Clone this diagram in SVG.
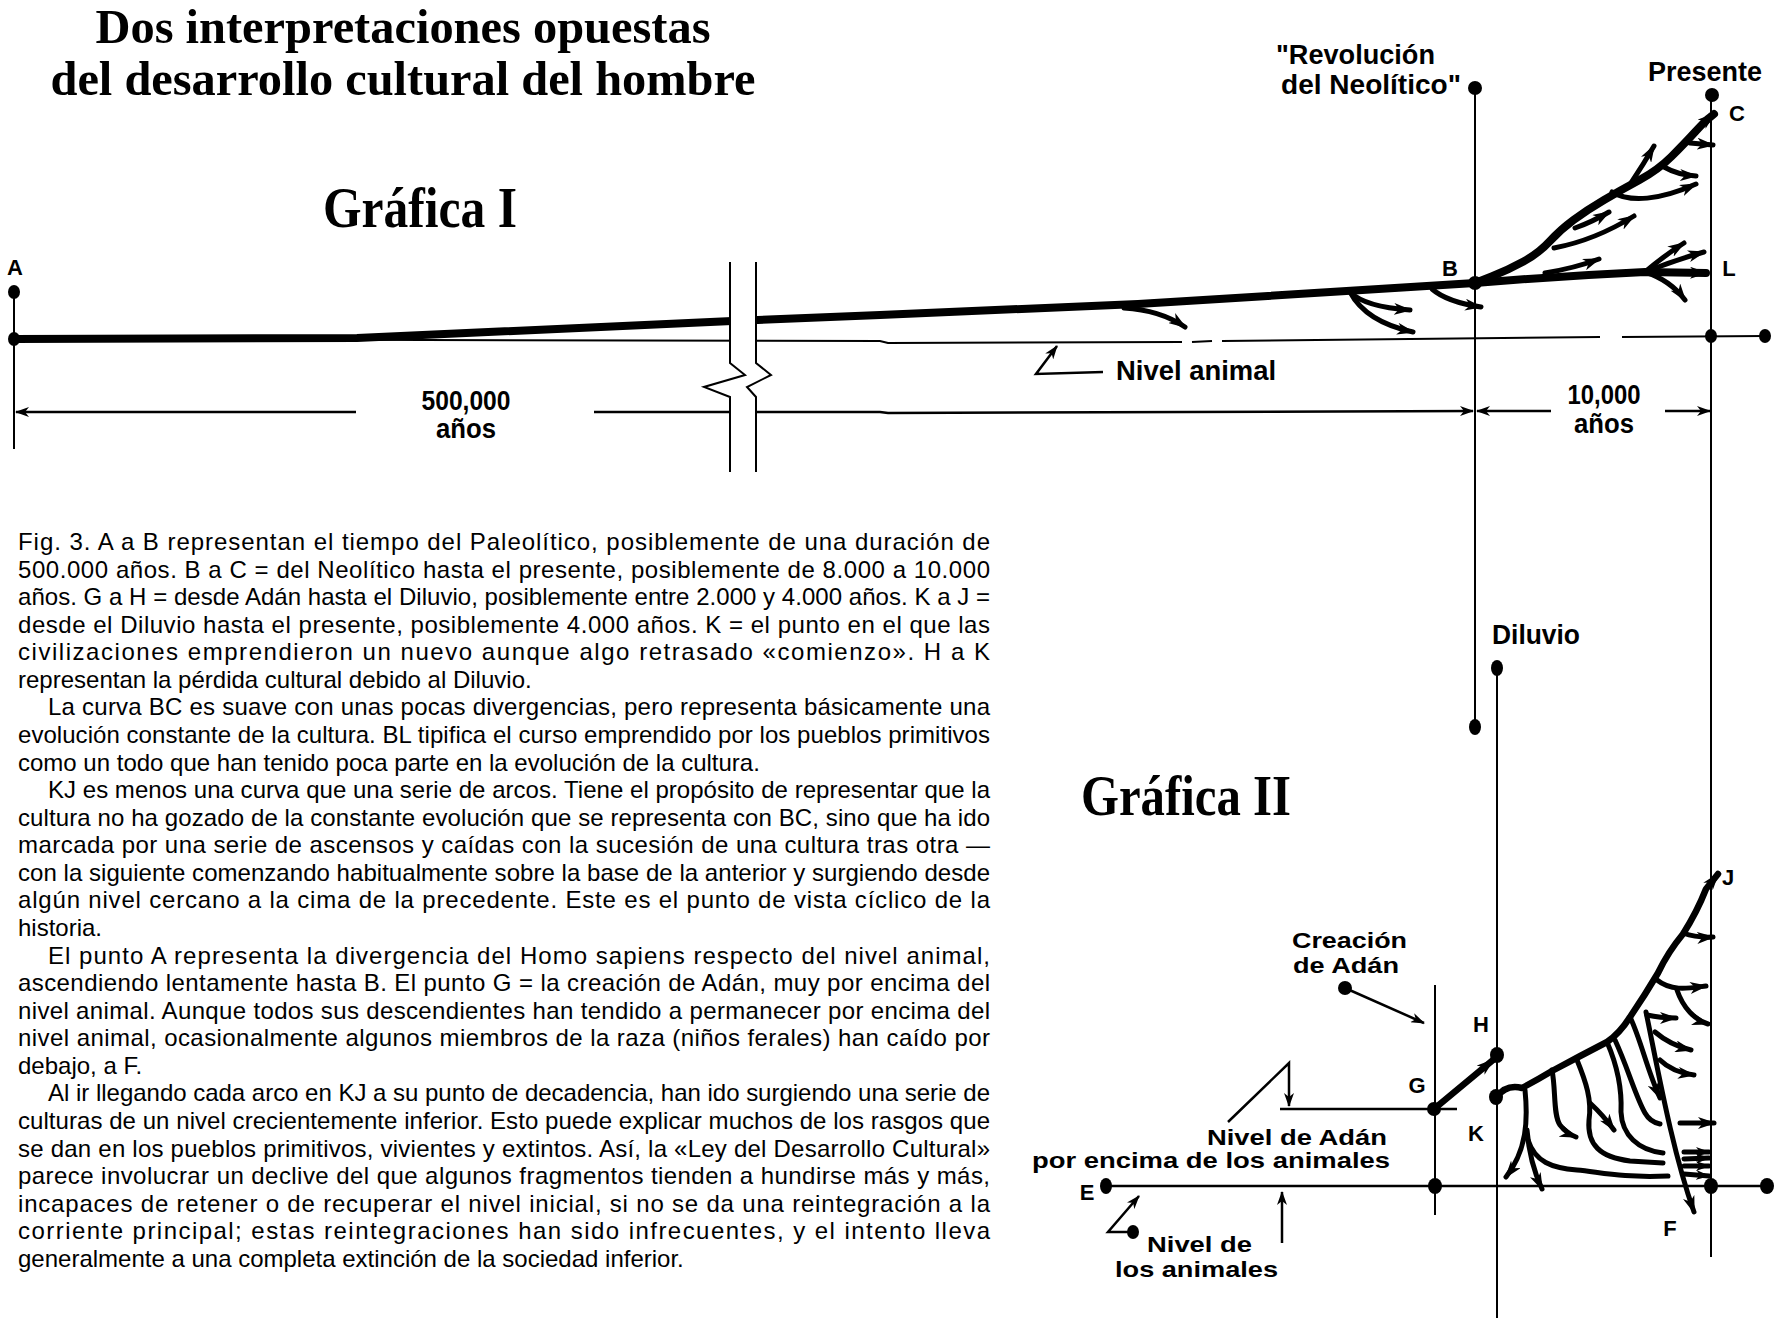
<svg xmlns="http://www.w3.org/2000/svg" width="1784" height="1328" viewBox="0 0 1784 1328">
<defs>
<style>
.ttl{font-family:"Liberation Serif","Times New Roman",serif;font-weight:bold;fill:#000}
.lbl{font-family:"Liberation Sans",Arial,sans-serif;font-weight:bold;font-size:27px;fill:#000}
.lbs{font-family:"Liberation Sans",Arial,sans-serif;font-weight:bold;font-size:22px;fill:#000}
.let{font-family:"Liberation Sans",Arial,sans-serif;font-weight:bold;font-size:22px;fill:#000;text-anchor:middle}
.body{font-family:"Liberation Sans",Arial,sans-serif;font-size:24px;fill:#000}
.thin{fill:none;stroke:#000;stroke-width:2}
.dim{fill:none;stroke:#000;stroke-width:2.5}
.thick{fill:none;stroke:#000;stroke-width:8;stroke-linecap:round;stroke-linejoin:round}
.br{fill:none;stroke:#000;stroke-width:5;stroke-linecap:round;stroke-linejoin:round}
.sp{fill:none;stroke:#000;stroke-width:6.5;stroke-linecap:round;stroke-linejoin:round}
.dot{fill:#000}
</style>
<marker id="ah" viewBox="0 0 18 12" refX="16" refY="6" markerWidth="18" markerHeight="12" markerUnits="userSpaceOnUse" orient="auto"><path d="M0,0 L18,6 L0,12 L5,6 z" fill="#000"/></marker>
<marker id="as" viewBox="0 0 14 10" refX="13" refY="5" markerWidth="14" markerHeight="10" markerUnits="userSpaceOnUse" orient="auto-start-reverse"><path d="M0,0 L14,5 L0,10 L4,5 z" fill="#000"/></marker>
</defs>
<rect width="1784" height="1328" fill="#fff"/>

<g id="title">
<text class="ttl" x="403" y="43" font-size="48" text-anchor="middle" textLength="615" lengthAdjust="spacingAndGlyphs">Dos interpretaciones opuestas</text>
<text class="ttl" x="403" y="95" font-size="48" text-anchor="middle" textLength="705" lengthAdjust="spacingAndGlyphs">del desarrollo cultural del hombre</text>
</g>

<g id="grafica-1-title"><text class="ttl" x="420" y="227" font-size="56" text-anchor="middle" textLength="194" lengthAdjust="spacingAndGlyphs">Gráfica I</text></g>
<g id="grafica-2-title"><text class="ttl" x="1186" y="815" font-size="56" text-anchor="middle" textLength="210" lengthAdjust="spacingAndGlyphs">Gráfica II</text></g>

<g id="connectors">
<path class="thin" d="M14,292 L14,449"/>
<path class="thin" d="M1475,88 L1475,727"/>
<path class="thin" d="M1711,95 L1711,1257"/>
<path class="thin" d="M1497,668 L1497,1318"/>
<path class="thin" d="M1435,985 L1435,1215"/>

<path class="thin" d="M14,339 L880,341 L888,343 L1182,342"/>
<path class="thin" d="M1192,342 L1212,341"/>
<path class="thin" d="M1222,341 L1600,337"/>
<path class="thin" d="M1622,337 L1765,336"/>

<path class="thick" d="M14,339 L357,338 L732,321 L880,315 L1138,304 L1475,283"/>

<path class="dim" d="M16,412 L356,412" marker-start="url(#as)"/>
<path class="dim" d="M594,412 L880,412 L888,413 L1473,411" marker-end="url(#as)"/>
<path class="dim" d="M1551,411 L1477,411" marker-end="url(#as)"/>
<path class="dim" d="M1665,411 L1710,411" marker-end="url(#as)"/>

<polygon points="730,262 730,363 745,375 704,387 730,397 730,472 756,472 756,397 747,387 773,375 756,363 756,262" fill="#fff"/>
<polyline class="thin" points="730,262 730,363 745,375 704,387 730,397 730,472"/>
<polyline class="thin" points="756,262 756,363 771,375 747,387 756,397 756,472"/>

<path class="thick" stroke-width="7.5" d="M1475,283 L1491.5,276.5 Q1508,270 1523.5,261.5 Q1539,253 1549.5,241.5 Q1560,230 1573.5,220 Q1587,210 1604,200 Q1621,190 1639.5,180 Q1658,170 1671.5,156.5 Q1685,143 1695.5,131.5 Q1706,120 1711,116.5 L1714,114" marker-end="url(#ah)"/>
<path class="thick" stroke-width="6.5" d="M1475,283 Q1560,276 1645,272 L1706,273" marker-end="url(#ah)"/>
<path class="br" d="M1631,183 Q1643,165 1654,146" marker-end="url(#ah)"/>
<path class="br" d="M1664,167 Q1678,175 1696,176" marker-end="url(#ah)"/>
<path class="br" d="M1690,143 L1713,145" marker-end="url(#ah)"/>
<path class="br" d="M1612,192 C1630,203 1660,200 1696,184" marker-end="url(#ah)"/>
<path class="br" d="M1575,228 Q1592,222 1609,212" marker-end="url(#ah)"/>
<path class="br" d="M1554,248 C1575,244 1605,234 1634,216" marker-end="url(#ah)"/>
<path class="br" d="M1545,273 Q1575,268 1599,259" marker-end="url(#ah)"/>
<path class="br" d="M1645,272 Q1665,255 1684,243" marker-end="url(#ah)"/>
<path class="br" d="M1645,272 Q1675,260 1704,252" marker-end="url(#ah)"/>
<path class="br" d="M1645,272 Q1670,280 1685,300" marker-end="url(#ah)"/>
<path class="br" d="M1350,292 Q1365,307 1410,310" marker-end="url(#ah)"/>
<path class="br" d="M1350,292 Q1366,322 1413,332" marker-end="url(#ah)"/>
<path class="br" d="M1432,289 Q1447,302 1481,307" marker-end="url(#ah)"/>
<path class="br" d="M1124,308 Q1160,310 1185,327" marker-end="url(#ah)"/>

<path class="dim" stroke-width="3.5" d="M1103,372 L1036,374 L1057,346" marker-end="url(#as)"/>

<path class="dim" d="M1106,1186 L1767,1186"/>
<path class="dim" d="M1280,1109 L1457,1109"/>
<path class="dim" d="M1228,1122 L1289,1063 L1289,1106" marker-end="url(#as)"/>
<path class="dim" d="M1133,1232 L1108,1232 L1139,1196" marker-end="url(#as)"/>
<path class="dim" d="M1282,1243 L1282,1192" marker-end="url(#as)"/>
<path class="dim" stroke-width="3" d="M1345,988 L1424,1023" marker-end="url(#as)"/>

<path class="sp" d="M1434,1109 L1493,1060" marker-end="url(#ah)"/>

<path class="sp" d="M1497,1097 Q1506,1084 1522,1088 Q1537,1080 1552,1071 Q1580,1056 1607,1042 Q1620,1033 1630,1017 Q1645,995 1658,973 Q1668,952 1683,934 Q1697,912 1706,889 L1718,874" marker-end="url(#ah)"/>
<path class="br" d="M1525,1090 C1528,1120 1527,1150 1506,1177" marker-end="url(#ah)"/>
<path class="br" d="M1527,1130 C1529,1155 1534,1172 1542,1189" marker-end="url(#ah)"/>
<path class="br" d="M1528,1140 C1535,1162 1552,1168 1577,1170 C1600,1172 1620,1178 1668,1176"/>
<path class="br" d="M1552,1070 C1556,1090 1553,1115 1560,1125 Q1566,1133 1576,1137" marker-end="url(#ah)"/>
<path class="br" d="M1577,1060 C1586,1082 1592,1100 1589,1120 C1587,1145 1600,1157 1630,1161 L1663,1163"/>
<path class="br" d="M1590,1103 Q1603,1115 1614,1130" marker-end="url(#ah)"/>
<path class="br" d="M1607,1042 C1617,1065 1622,1090 1621,1112 C1622,1135 1638,1150 1663,1153"/>
<path class="br" d="M1615,1040 C1628,1068 1635,1095 1645,1113 Q1650,1122 1660,1124"/>
<path class="br" d="M1630,1017 C1641,1040 1647,1070 1660,1098" marker-end="url(#ah)"/>
<path class="br" d="M1646,1012 C1658,1070 1672,1150 1694,1212" marker-end="url(#ah)"/>
<path class="br" d="M1683,933 Q1697,938 1713,937" marker-end="url(#ah)"/>
<path class="br" d="M1657,980 C1672,992 1690,988 1706,986" marker-end="url(#ah)"/>
<path class="br" d="M1677,990 C1683,1008 1695,1020 1708,1024" marker-end="url(#ah)"/>
<path class="br" d="M1647,1015 Q1660,1018 1676,1018" marker-end="url(#ah)"/>
<path class="br" d="M1655,1032 Q1670,1045 1691,1050" marker-end="url(#ah)"/>
<path class="br" d="M1660,1060 Q1672,1072 1694,1075" marker-end="url(#ah)"/>
<path class="br" stroke-width="4" d="M1680,1123 L1714,1123" marker-end="url(#ah)"/>
<path class="br" stroke-width="3.5" d="M1684,1152 L1709,1152" marker-end="url(#as)"/>
<path class="br" stroke-width="3.5" d="M1684,1159 L1709,1158" marker-end="url(#as)"/>
<path class="br" stroke-width="3.5" d="M1684,1166 L1709,1166" marker-end="url(#as)"/>
<path class="br" stroke-width="3.5" d="M1684,1174 L1709,1176" marker-end="url(#as)"/>
</g>

<g id="node-A"><ellipse class="dot" cx="14" cy="292" rx="6" ry="7"/><ellipse class="dot" cx="14" cy="339" rx="6" ry="7"/><text class="let" x="15" y="275">A</text></g>
<g id="node-neolitico"><ellipse class="dot" cx="1475" cy="88" rx="7" ry="7"/>
<text class="lbl" x="1276" y="64" textLength="159" lengthAdjust="spacingAndGlyphs">"Revolución</text>
<text class="lbl" x="1281" y="94" textLength="180" lengthAdjust="spacingAndGlyphs">del Neolítico"</text></g>
<g id="node-B"><ellipse class="dot" cx="1475" cy="283" rx="7" ry="7"/><text class="let" x="1450" y="276">B</text></g>
<g id="node-presente"><ellipse class="dot" cx="1712" cy="95" rx="7" ry="7"/>
<text class="lbl" x="1648" y="81" textLength="114" lengthAdjust="spacingAndGlyphs">Presente</text></g>
<g id="node-C"><text class="let" x="1737" y="121">C</text></g>
<g id="node-L"><text class="let" x="1729" y="276">L</text></g>
<g id="node-animal-end-1"><ellipse class="dot" cx="1711" cy="336" rx="6" ry="7"/><ellipse class="dot" cx="1765" cy="336" rx="6" ry="7"/></g>
<g id="label-500000"><text class="lbl" x="466" y="410" text-anchor="middle" textLength="89" lengthAdjust="spacingAndGlyphs">500,000</text><text class="lbl" x="466" y="438" text-anchor="middle" textLength="60" lengthAdjust="spacingAndGlyphs">años</text></g>
<g id="label-10000"><text class="lbl" x="1604" y="404" text-anchor="middle" textLength="73" lengthAdjust="spacingAndGlyphs">10,000</text><text class="lbl" x="1604" y="433" text-anchor="middle" textLength="60" lengthAdjust="spacingAndGlyphs">años</text></g>
<g id="label-nivel-animal"><text class="lbl" x="1116" y="380" textLength="160" lengthAdjust="spacingAndGlyphs">Nivel animal</text></g>

<g id="node-neolitico-end"><ellipse class="dot" cx="1475" cy="727" rx="6" ry="8"/></g>
<g id="node-diluvio"><ellipse class="dot" cx="1497" cy="668" rx="6" ry="8"/><text class="lbl" font-size="25" x="1492" y="644" textLength="88" lengthAdjust="spacingAndGlyphs">Diluvio</text></g>
<g id="node-creacion"><ellipse class="dot" cx="1345" cy="988" rx="7" ry="7"/>
<text class="lbs" x="1292" y="948" textLength="115" lengthAdjust="spacingAndGlyphs">Creación</text>
<text class="lbs" x="1293" y="973" textLength="106" lengthAdjust="spacingAndGlyphs">de Adán</text></g>
<g id="node-G"><ellipse class="dot" cx="1434" cy="1109" rx="7" ry="7"/><text class="let" x="1417" y="1093">G</text></g>
<g id="node-H"><ellipse class="dot" cx="1497" cy="1055" rx="7" ry="8"/><text class="let" x="1481" y="1032">H</text></g>
<g id="node-K"><ellipse class="dot" cx="1496" cy="1097" rx="7" ry="8"/><text class="let" x="1476" y="1141">K</text></g>
<g id="node-J"><text class="let" x="1728" y="885">J</text></g>
<g id="node-F"><text class="let" x="1670" y="1236">F</text></g>
<g id="node-E"><ellipse class="dot" cx="1106" cy="1186" rx="6" ry="8"/><text class="let" x="1087" y="1200">E</text></g>
<g id="node-E-marks"><ellipse class="dot" cx="1435" cy="1186" rx="7" ry="8"/><ellipse class="dot" cx="1711" cy="1186" rx="7" ry="8"/><ellipse class="dot" cx="1767" cy="1186" rx="7" ry="8"/></g>
<g id="label-nivel-adan"><text class="lbs" x="1207" y="1145" textLength="180" lengthAdjust="spacingAndGlyphs">Nivel de Adán</text>
<text class="lbs" x="1032" y="1168" textLength="358" lengthAdjust="spacingAndGlyphs">por encima de los animales</text></g>
<g id="label-nivel-animales"><ellipse class="dot" cx="1133" cy="1232" rx="6" ry="7"/>
<text class="lbs" x="1147" y="1252" textLength="105" lengthAdjust="spacingAndGlyphs">Nivel de</text>
<text class="lbs" x="1115" y="1277" textLength="163" lengthAdjust="spacingAndGlyphs">los animales</text></g>

<g id="caption" class="body">
<text x="18" y="550" textLength="972" lengthAdjust="spacing">Fig. 3. A a B representan el tiempo del Paleolítico, posiblemente de una duración de</text>
<text x="18" y="577.6" textLength="972" lengthAdjust="spacing">500.000 años. B a C = del Neolítico hasta el presente, posiblemente de 8.000 a 10.000</text>
<text x="18" y="605.1" textLength="972" lengthAdjust="spacing">años. G a H = desde Adán hasta el Diluvio, posiblemente entre 2.000 y 4.000 años. K a J =</text>
<text x="18" y="632.7" textLength="972" lengthAdjust="spacing">desde el Diluvio hasta el presente, posiblemente 4.000 años. K = el punto en el que las</text>
<text x="18" y="660.3" textLength="972" lengthAdjust="spacing">civilizaciones emprendieron un nuevo aunque algo retrasado «comienzo». H a K</text>
<text x="18" y="687.9">representan la pérdida cultural debido al Diluvio.</text>
<text x="48" y="715.4" textLength="942" lengthAdjust="spacing">La curva BC es suave con unas pocas divergencias, pero representa básicamente una</text>
<text x="18" y="743" textLength="972" lengthAdjust="spacing">evolución constante de la cultura. BL tipifica el curso emprendido por los pueblos primitivos</text>
<text x="18" y="770.6">como un todo que han tenido poca parte en la evolución de la cultura.</text>
<text x="48" y="798.1" textLength="942" lengthAdjust="spacing">KJ es menos una curva que una serie de arcos. Tiene el propósito de representar que la</text>
<text x="18" y="825.7" textLength="972" lengthAdjust="spacing">cultura no ha gozado de la constante evolución que se representa con BC, sino que ha ido</text>
<text x="18" y="853.3" textLength="972" lengthAdjust="spacing">marcada por una serie de ascensos y caídas con la sucesión de una cultura tras otra —</text>
<text x="18" y="880.8" textLength="972" lengthAdjust="spacing">con la siguiente comenzando habitualmente sobre la base de la anterior y surgiendo desde</text>
<text x="18" y="908.4" textLength="972" lengthAdjust="spacing">algún nivel cercano a la cima de la precedente. Este es el punto de vista cíclico de la</text>
<text x="18" y="936">historia.</text>
<text x="48" y="963.6" textLength="942" lengthAdjust="spacing">El punto A representa la divergencia del Homo sapiens respecto del nivel animal,</text>
<text x="18" y="991.1" textLength="972" lengthAdjust="spacing">ascendiendo lentamente hasta B. El punto G = la creación de Adán, muy por encima del</text>
<text x="18" y="1018.7" textLength="972" lengthAdjust="spacing">nivel animal. Aunque todos sus descendientes han tendido a permanecer por encima del</text>
<text x="18" y="1046.3" textLength="972" lengthAdjust="spacing">nivel animal, ocasionalmente algunos miembros de la raza (niños ferales) han caído por</text>
<text x="18" y="1073.8">debajo, a F.</text>
<text x="48" y="1101.4" textLength="942" lengthAdjust="spacing">Al ir llegando cada arco en KJ a su punto de decadencia, han ido surgiendo una serie de</text>
<text x="18" y="1129" textLength="972" lengthAdjust="spacing">culturas de un nivel crecientemente inferior. Esto puede explicar muchos de los rasgos que</text>
<text x="18" y="1156.5" textLength="972" lengthAdjust="spacing">se dan en los pueblos primitivos, vivientes y extintos. Así, la «Ley del Desarrollo Cultural»</text>
<text x="18" y="1184.1" textLength="972" lengthAdjust="spacing">parece involucrar un declive del que algunos fragmentos tienden a hundirse más y más,</text>
<text x="18" y="1211.7" textLength="972" lengthAdjust="spacing">incapaces de retener o de recuperar el nivel inicial, si no se da una reintegración a la</text>
<text x="18" y="1239.3" textLength="972" lengthAdjust="spacing">corriente principal; estas reintegraciones han sido infrecuentes, y el intento lleva</text>
<text x="18" y="1266.8">generalmente a una completa extinción de la sociedad inferior.</text>
</g>
</svg>
